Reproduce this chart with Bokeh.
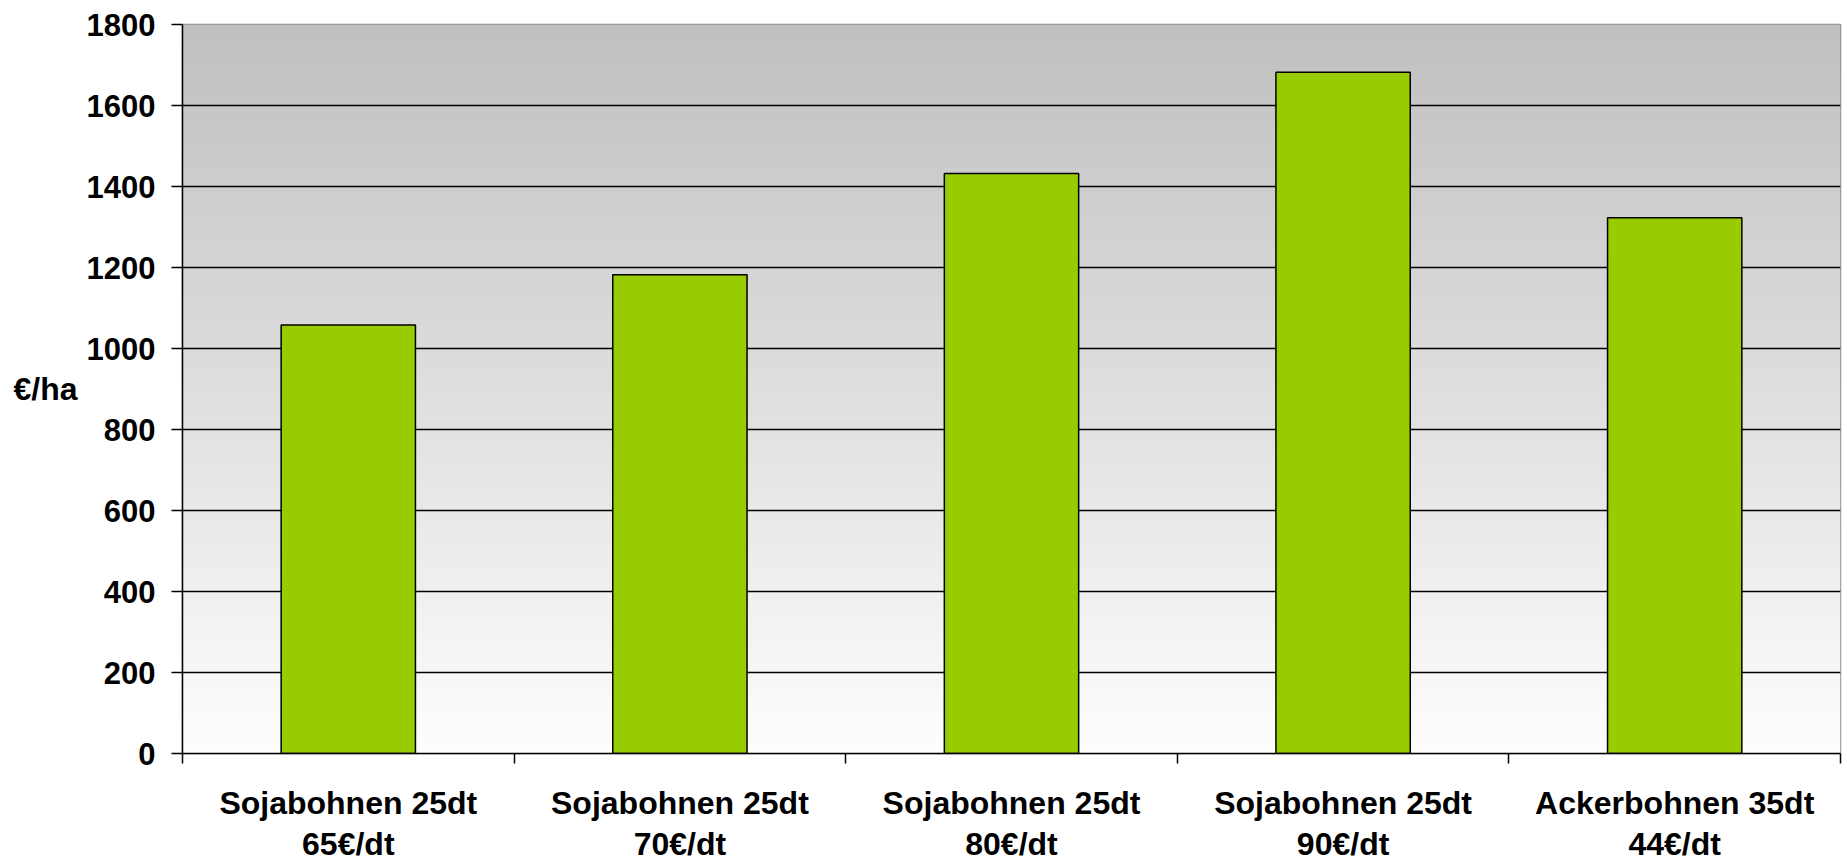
import numpy as np
from bokeh.plotting import figure
from bokeh.models import FixedTicker, Range1d, ColumnDataSource
from bokeh.embed import file_html
from bokeh.resources import INLINE

# ---- data ----
categories = [
    "Sojabohnen 25dt\n65€/dt",
    "Sojabohnen 25dt\n70€/dt",
    "Sojabohnen 25dt\n80€/dt",
    "Sojabohnen 25dt\n90€/dt",
    "Ackerbohnen 35dt\n44€/dt",
]
values = [1058, 1182, 1432, 1682, 1323]
y_ticks = [0, 200, 400, 600, 800, 1000, 1200, 1400, 1600, 1800]
y_label = "€/ha"

FONT = "Liberation Sans"
n = len(categories)
xpos = [i + 0.5 for i in range(n)]
ymax = y_ticks[-1]

src = ColumnDataSource(dict(x=xpos, top=values))

p = figure(
    width=1842, height=864,
    x_range=Range1d(0, n), y_range=Range1d(0, ymax),
    output_backend="svg", toolbar_location=None,
    min_border_left=182, min_border_right=2,
    min_border_top=24, min_border_bottom=111,
)
p.border_fill_color = "white"
p.background_fill_color = "white"

# gradient background of the plot area (style only)
rows = 729
g = np.linspace(254, 192, rows).astype(np.uint8)
img = np.empty((rows, 1), dtype=np.uint32)
view = img.view(np.uint8).reshape((rows, 1, 4))
view[:, 0, 0] = g
view[:, 0, 1] = g
view[:, 0, 2] = g
view[:, 0, 3] = 255
p.image_rgba(image=[img], x=0, y=0, dw=n, dh=ymax, level="image")

p.vbar(x="x", top="top", bottom=0, width=0.405, source=src,
       fill_color="#99cc00", line_color="black", line_width=1.5)

# grid
p.xgrid.visible = False
p.ygrid.ticker = FixedTicker(ticks=y_ticks[1:-1])
p.ygrid.grid_line_color = "black"
p.ygrid.grid_line_width = 1.5

p.outline_line_color = "#8c8c8c"
p.outline_line_width = 1.5

# x axis: labels at category centres, ticks at category boundaries
xa = p.xaxis[0]
xa.ticker = FixedTicker(ticks=xpos, minor_ticks=list(range(n + 1)))
xa.major_label_overrides = {x: c for x, c in zip(xpos, categories)}
xa.major_tick_line_color = None
xa.major_tick_out = 0
xa.major_tick_in = 0
xa.minor_tick_line_color = "black"
xa.minor_tick_line_width = 1.5
xa.minor_tick_out = 10
xa.minor_tick_in = 0
xa.axis_line_color = "black"
xa.axis_line_width = 1.5
xa.major_label_text_font = FONT
xa.major_label_text_font_style = "bold"
xa.major_label_text_font_size = "32px"
xa.major_label_text_line_height = 1.15
xa.major_label_text_color = "black"
xa.major_label_standoff = 21

# y axis
ya = p.yaxis[0]
ya.ticker = FixedTicker(ticks=y_ticks)
ya.major_tick_line_color = "black"
ya.major_tick_line_width = 1.5
ya.major_tick_out = 11
ya.major_tick_in = 0
ya.minor_tick_line_color = None
ya.axis_line_color = "black"
ya.axis_line_width = 1.5
ya.major_label_text_font = FONT
ya.major_label_text_font_style = "bold"
ya.major_label_text_font_size = "31px"
ya.major_label_text_color = "black"
ya.major_label_standoff = 16
ya.axis_label = y_label
ya.axis_label_orientation = "horizontal"
ya.axis_label_text_font = FONT
ya.axis_label_text_font_style = "bold"
ya.axis_label_text_font_size = "32px"
ya.axis_label_text_color = "black"
ya.axis_label_standoff = 6

open("out.html", "w").write(file_html(p, INLINE))
